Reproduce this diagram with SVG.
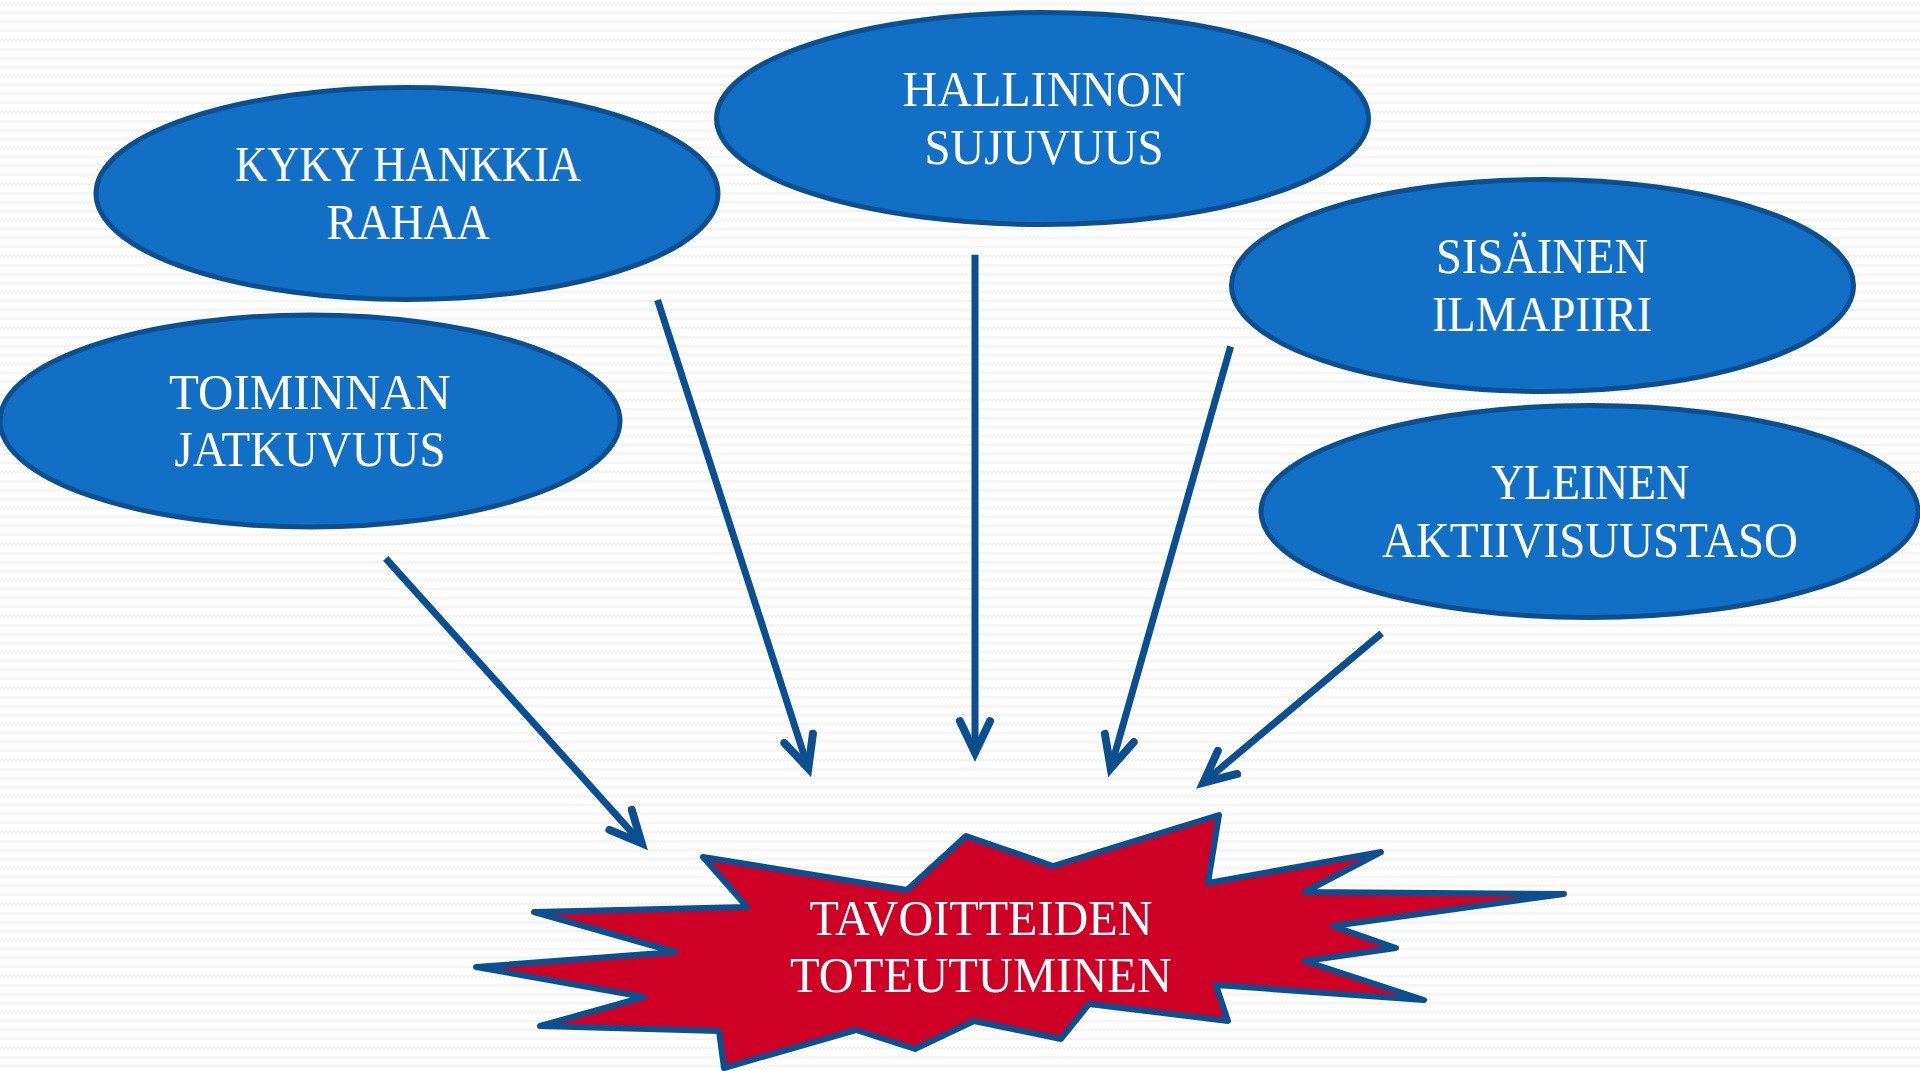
<svg xmlns="http://www.w3.org/2000/svg" width="1920" height="1071" viewBox="0 0 1920 1071">
  <defs>
    <pattern id="bg" width="8" height="9" patternUnits="userSpaceOnUse">
      <rect width="8" height="9" fill="#ffffff"/>
      <path d="M0,5 L2,3 L4,5 L6,3 L8,5" fill="none" stroke="#f0f0f0" stroke-width="1.2"/>
    </pattern>
    <marker id="head" markerUnits="userSpaceOnUse" markerWidth="80" markerHeight="80" refX="0" refY="0" orient="auto" overflow="visible" viewBox="-40 -40 80 80">
      <path d="M-31.5,-15 L0,0 L-31.5,15" fill="none" stroke="#0b4f91" stroke-width="8" stroke-linejoin="miter" stroke-miterlimit="10" stroke-linecap="round"/>
    </marker>
    <style>
      .oval { fill: #1170c6; stroke: #0b4f91; stroke-width: 5; }
      .lbl { font-family: "Liberation Serif", "DejaVu Serif", serif; font-size: 50px; fill: #ffffff; text-anchor: middle; }
      .conn { fill: none; stroke: #0b4f91; stroke-width: 7; marker-end: url(#head); }
      .star { fill: #cf0025; stroke: #0b4f91; stroke-width: 6; stroke-linejoin: round; }
    </style>
  </defs>
  <rect width="1920" height="1071" fill="url(#bg)"/>

  <g id="connectors">
    <path class="conn" d="M385.7,558.4 L641.7,843.3"/>
    <path class="conn" d="M657.6,300 L808.3,768.3"/>
    <path class="conn" d="M975,254.7 L975,752.7"/>
    <path class="conn" d="M1230.6,346.5 L1110.7,768.3"/>
    <path class="conn" d="M1381.7,633.3 L1203.3,782.7"/>
  </g>

  <g id="kyky">
    <ellipse class="oval" cx="407" cy="193.5" rx="311" ry="106"/>
    <text class="lbl"><tspan x="408" y="181" textLength="346" lengthAdjust="spacingAndGlyphs">KYKY HANKKIA</tspan><tspan x="408" y="238.5" textLength="163" lengthAdjust="spacingAndGlyphs">RAHAA</tspan></text>
  </g>

  <g id="hallinnon">
    <ellipse class="oval" cx="1042.5" cy="118.5" rx="326" ry="106"/>
    <text class="lbl"><tspan x="1044" y="106" textLength="283" lengthAdjust="spacingAndGlyphs">HALLINNON</tspan><tspan x="1044" y="164" textLength="239" lengthAdjust="spacingAndGlyphs">SUJUVUUS</tspan></text>
  </g>

  <g id="sisainen">
    <ellipse class="oval" cx="1542.5" cy="285.5" rx="311" ry="106"/>
    <text class="lbl"><tspan x="1542" y="273" textLength="212" lengthAdjust="spacingAndGlyphs">SISÄINEN</tspan><tspan x="1542" y="330.5" textLength="220" lengthAdjust="spacingAndGlyphs">ILMAPIIRI</tspan></text>
  </g>

  <g id="toiminnan">
    <ellipse class="oval" cx="310" cy="421" rx="310" ry="106"/>
    <text class="lbl"><tspan x="310" y="409" textLength="282" lengthAdjust="spacingAndGlyphs">TOIMINNAN</tspan><tspan x="310" y="466" textLength="271" lengthAdjust="spacingAndGlyphs">JATKUVUUS</tspan></text>
  </g>

  <g id="yleinen">
    <ellipse class="oval" cx="1589.5" cy="511.5" rx="328.5" ry="106"/>
    <text class="lbl"><tspan x="1590" y="499" textLength="198" lengthAdjust="spacingAndGlyphs">YLEINEN</tspan><tspan x="1590" y="556.5" textLength="416" lengthAdjust="spacingAndGlyphs">AKTIIVISUUSTASO</tspan></text>
  </g>

  <g id="tavoitteiden">
    <polygon class="star" points="703,857 907,890 966,836 1053,866 1219,815 1208,883 1381,852 1305,892 1564,894 1333,926 1396,948 1305,961 1424,1000 1216,985 1228,1021 1089,1004 1061,1039 974,1021 915,1049 856,1030 724,1068 719,1031 540,1026 644,997 476,967 675,952 534,912 747,907"/>
    <text class="lbl"><tspan x="981" y="935" textLength="343" lengthAdjust="spacingAndGlyphs">TAVOITTEIDEN</tspan><tspan x="981" y="992" textLength="382" lengthAdjust="spacingAndGlyphs">TOTEUTUMINEN</tspan></text>
  </g>
</svg>
